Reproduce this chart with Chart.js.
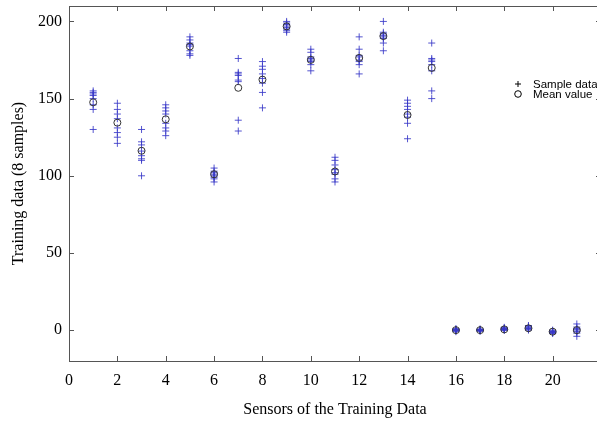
<!DOCTYPE html>
<html>
<head>
<meta charset="utf-8">
<script src="https://cdn.jsdelivr.net/npm/chart.js@4.4.0/dist/chart.umd.min.js"></script>
<style>
  html, body { margin: 0; padding: 0; background: #fff; overflow: hidden; }
  #wrap { width: 597px; height: 421px; overflow: hidden; }
</style>
</head>
<body>
<div id="wrap"><canvas id="c" width="610" height="421"></canvas></div>
<script>
const sensors = [1,2,3,4,5,6,7,8,9,10,11,12,13,14,15,16,17,18,19,20,21];
const sampleValues = [
  [155,154,153,152,150,146,143,130],
  [147,143,140,137,131,128,125,121],
  [130,122,120,116,113,111,110,100],
  [146,144,142,140,134,131,129,126],
  [190,188,186,185,184,181,179,178],
  [105,103,102,101,100,99,98,96],
  [176,167,166,165,162,161,136,129],
  [174,171,169,166,163,160,154,144],
  [200,199,198,197,196,195,194,193],
  [182,180,177,176,175,174,172,168],
  [112,110,107,104,102,101,98,96],
  [190,182,178,177,175,174,172,166],
  [200,193,192,191,190,189,186,181],
  [149,147,145,143,140,138,134,124],
  [186,176,175,174,172,168,155,150],
  [1,0.5,0.3,0,0,-0.3,-0.5,-1],
  [0.8,0.4,0.2,0,0,-0.2,-0.4,-0.8],
  [1.8,1.4,1,0.8,0.6,0.4,0.2,-0.2],
  [3,2.5,2,1.5,1.2,1,0.5,0],
  [0,-0.5,-0.8,-1,-1.2,-1.5,-1.8,-2.2],
  [4,2,1,0.5,-0.5,-1,-2,-4]
];
const meanValues = [147.6,134.4,116.2,136.6,183.8,101,157,162.3,196.8,175.1,102.8,176.4,190.5,139.4,169.9,0,0,0.5,1.2,-1,0];
const xTicks = [0,2,4,6,8,10,12,14,16,18,20];
const yTicks = [0,50,100,150,200];
const legendLabels = ['Sample data','Mean value'];

const samplePoints = [];
sensors.forEach((s, i) => sampleValues[i].forEach(v => samplePoints.push({x: s, y: v})));
const meanPoints = sensors.map((s, i) => ({x: s, y: meanValues[i]}));

const BLUE = 'rgba(55,55,200,0.85)';
const DARK = '#333';
const AXIS = '#555';

const framePlugin = {
  id: 'frame',
  afterDraw(chart) {
    const {ctx, chartArea: a, scales} = chart;
    ctx.save();
    ctx.strokeStyle = AXIS;
    ctx.lineWidth = 1;
    ctx.strokeRect(Math.round(a.left)+0.5, Math.round(a.top)+0.5, Math.round(a.right-a.left), Math.round(a.bottom-a.top));
    const tl = 5;
    ctx.beginPath();
    xTicks.forEach(t => {
      const px = Math.round(scales.x.getPixelForValue(t)) + 0.5;
      ctx.moveTo(px, a.bottom); ctx.lineTo(px, a.bottom - tl);
      ctx.moveTo(px, a.top); ctx.lineTo(px, a.top + tl);
    });
    yTicks.forEach(t => {
      const py = Math.round(scales.y.getPixelForValue(t)) + 0.5;
      ctx.moveTo(a.left, py); ctx.lineTo(a.left + tl, py);
      ctx.moveTo(a.right, py); ctx.lineTo(a.right - tl, py);
    });
    ctx.stroke();
    // legend
    const lx = 518, ly1 = 84, ly2 = 94;
    ctx.strokeStyle = '#000';
    ctx.beginPath();
    ctx.moveTo(lx - 3, ly1); ctx.lineTo(lx + 3, ly1);
    ctx.moveTo(lx, ly1 - 3); ctx.lineTo(lx, ly1 + 3);
    ctx.stroke();
    ctx.beginPath();
    ctx.arc(lx, ly2, 3.3, 0, Math.PI * 2);
    ctx.stroke();
    ctx.fillStyle = '#000';
    ctx.font = '11.5px "Liberation Sans", Arial, sans-serif';
    ctx.textBaseline = 'middle';
    ctx.textAlign = 'left';
    ctx.fillText(legendLabels[0], 533, ly1 + 1);
    ctx.fillText(legendLabels[1], 533, ly2 + 1);
    ctx.restore();
  }
};

new Chart(document.getElementById('c'), {
  type: 'scatter',
  data: {
    datasets: [
      {
        label: legendLabels[1],
        data: meanPoints,
        pointStyle: 'circle',
        pointRadius: 3.5,
        pointBorderWidth: 1,
        borderWidth: 1,
        borderColor: DARK,
        backgroundColor: 'rgba(0,0,0,0)',
        pointBackgroundColor: 'rgba(0,0,0,0)',
        pointBorderColor: DARK
      },
      {
        label: legendLabels[0],
        data: samplePoints,
        pointStyle: 'cross',
        pointRadius: 3.5,
        pointBorderWidth: 1,
        borderWidth: 1,
        borderColor: BLUE,
        pointBorderColor: BLUE,
        backgroundColor: BLUE
      }
    ]
  },
  options: {
    responsive: false,
    animation: false,
    devicePixelRatio: 1,
    layout: { autoPadding: false, padding: { top: 6, right: 9, left: 0, bottom: 0 } },
    plugins: { legend: { display: false }, tooltip: { enabled: false } },
    scales: {
      x: {
        type: 'linear',
        min: 0, max: 22,
        afterFit(s) { s.height = 60; s.paddingLeft = 0; s.paddingRight = 0; },
        afterBuildTicks(s) { s.ticks = xTicks.map(v => ({value: v})); },
        grid: { display: false, drawTicks: false },
        border: { display: false },
        ticks: {
          color: '#000',
          padding: 10,
          maxRotation: 0,
          font: { family: '"Liberation Serif", "Times New Roman", serif', size: 16 }
        },
        title: {
          display: true,
          text: 'Sensors of the Training Data',
          color: '#000',
          padding: { top: 3, bottom: 2 },
          font: { family: '"Liberation Serif", "Times New Roman", serif', size: 16 }
        }
      },
      y: {
        type: 'linear',
        min: -20, max: 210,
        afterFit(s) { s.width = 69; s.paddingTop = 0; s.paddingBottom = 0; },
        afterBuildTicks(s) { s.ticks = yTicks.map(v => ({value: v})); },
        grid: { display: false, drawTicks: false },
        border: { display: false },
        ticks: {
          color: '#000',
          padding: 7,
          font: { family: '"Liberation Serif", "Times New Roman", serif', size: 16 }
        },
        title: {
          display: true,
          text: 'Training data (8 samples)',
          color: '#000',
          padding: { top: 9, bottom: 0 },
          font: { family: '"Liberation Serif", "Times New Roman", serif', size: 16 }
        }
      }
    }
  },
  plugins: [framePlugin]
});
</script>
</body>
</html>
